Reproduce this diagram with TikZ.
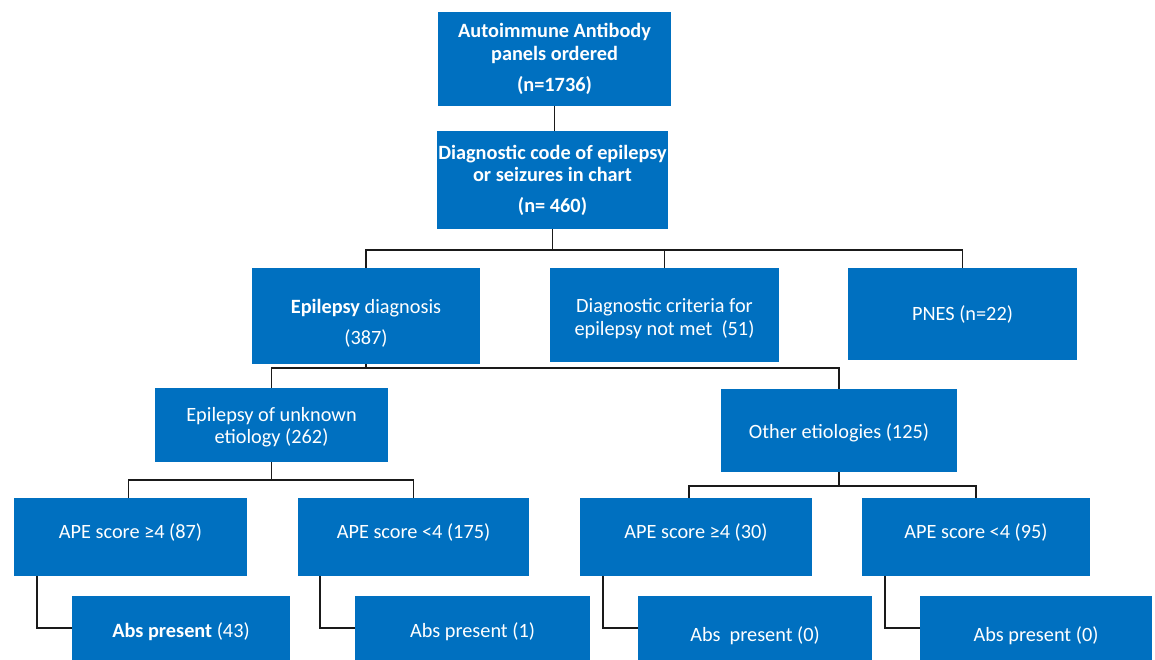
\documentclass[tikz,border=0pt]{standalone}
\usepackage{fontspec}
\setmainfont{Carlito}
\definecolor{boxblue}{HTML}{0070C0}
\definecolor{linegray}{HTML}{1A1A1A}
\tikzset{
  box/.style={fill=boxblue, draw=none, text=white, align=center, inner sep=0pt,
    font=\fontsize{20.3}{22.5}\selectfont},
  conn/.style={draw=linegray, line width=1.4pt},
}
\newcommand{\boxat}[6]{% name, x1, y1, x2, y2, text
  \node[box, minimum width={(#4-#2)*1pt}, minimum height={(#5-#3)*1pt}]
    (#1) at ({(#2+#4)/2},{(#3+#5)/2}) {#6};}
\newcommand{\updepth}{\rule[-11pt]{0pt}{0pt}}
\begin{document}
\begin{tikzpicture}[x=1pt,y=-1pt]
\useasboundingbox (0,0) rectangle (1155,660);
\fill[white] (0,0) rectangle (1155,660);
\boxat{b1}{438}{12}{671}{106}{\textbf{Autoimmune Antibody}\\\textbf{panels ordered}\\[9pt]\textbf{(n=1736)}}
\boxat{b2}{437}{131}{668}{229}{\textbf{Diagnostic code of epilepsy}\\\textbf{or seizures in chart}\\[8pt]\textbf{(n= 460)}}
\boxat{b3}{252}{268}{480}{364}{\rule{0pt}{29pt}\textbf{Epilepsy} diagnosis\\[9pt](387)}
\boxat{b4}{550}{268}{779}{362}{\rule{0pt}{21pt}Diagnostic criteria for\\epilepsy not met~~(51)}
\boxat{b5}{848}{268}{1077}{360}{PNES (n=22)}
\boxat{b6}{155}{388}{388}{462}{\rule{0pt}{18pt}Epilepsy of unknown\\etiology (262)}
\boxat{b7}{721}{389}{957}{472}{\rule{0pt}{19.5pt}Other etiologies (125)}
\boxat{b8}{14}{498}{247}{576}{\updepth APE score ≥4 (87)}
\boxat{b9}{298}{498}{529}{576}{\updepth APE score <4 (175)}
\boxat{b10}{580}{498}{812}{576}{\updepth APE score ≥4 (30)}
\boxat{b11}{862}{498}{1090}{576}{\updepth APE score <4 (95)}
\boxat{b12}{72}{596}{290}{660}{\rule{0pt}{22pt}\textbf{Abs present} (43)}
\boxat{b13}{355}{596}{590}{660}{\rule{0pt}{22pt}Abs present (1)}
\boxat{b14}{638}{596}{872}{660}{\rule{0pt}{30pt}Abs~~present (0)}
\boxat{b15}{920}{596}{1152}{660}{\rule{0pt}{30pt}Abs present (0)}
% connectors
\draw[conn] (b1.south) -- (b1.south |- b2.north);
\draw[conn] (b2.south) -- (b2.south |- 0,250) -| (b3.north);
\draw[conn] (b2.south |- 0,250) -| (b4.north);
\draw[conn] (b2.south |- 0,250) -| (b5.north);
\draw[conn] (b3.south) -- (b3.south |- 0,368) -| (b6.north);
\draw[conn] (b3.south |- 0,368) -| (b7.north);
\draw[conn] (b6.south) -- (b6.south |- 0,480) -| ([xshift=-2pt]b8.north);
\draw[conn] (b6.south |- 0,480) -| (b9.north);
\draw[conn] (b7.south) -- (b7.south |- 0,486) -| ([xshift=-7pt]b10.north);
\draw[conn] (b7.south |- 0,486) -| (b11.north);
\draw[conn] ([xshift=23pt]b8.south west) |- (b12.west);
\draw[conn] ([xshift=22pt]b9.south west) |- (b13.west);
\draw[conn] ([xshift=23pt]b10.south west) |- (b14.west);
\draw[conn] ([xshift=23pt]b11.south west) |- (b15.west);
\end{tikzpicture}
\end{document}
